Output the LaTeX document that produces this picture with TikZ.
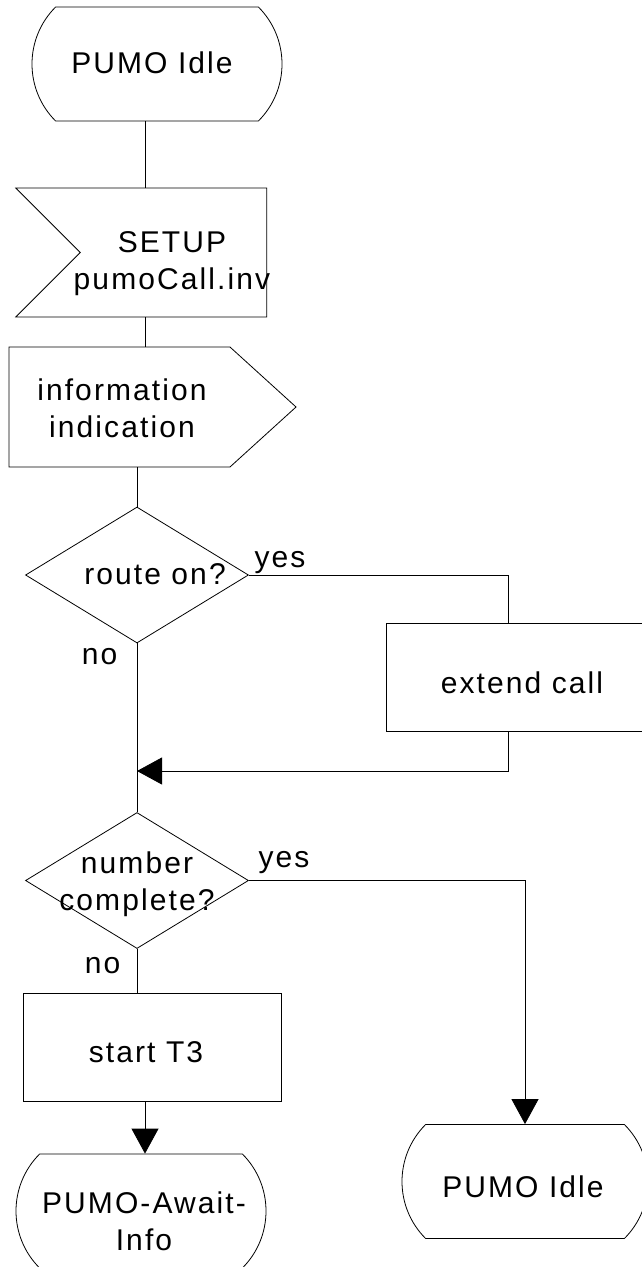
\documentclass[tikz,border=0pt]{standalone}
\usepackage{fontspec}
\newfontfamily\sdlfont[LetterSpace=7]{Liberation Sans}
\usetikzlibrary{arrows.meta,shapes.geometric,shapes.misc,shapes.symbols}

\begin{document}
\begin{tikzpicture}[x=1pt, y=-1pt, line width=0.8pt,
  statebox/.style={draw, rounded rectangle, rounded rectangle arc length=90, minimum width=250pt, minimum height=114pt, inner sep=0pt},
  taskbox/.style={draw, rectangle, minimum height=108pt, inner sep=0pt},
  decision/.style={draw, diamond, minimum width=223pt, minimum height=136pt, inner sep=0pt},
  inputsig/.style={draw, signal, signal from=west, signal to=nowhere, minimum width=251pt, minimum height=129pt, inner sep=0pt},
  outputsig/.style={draw, signal, signal to=east, signal pointer angle=84.5, minimum width=287pt, minimum height=120pt, inner sep=0pt},
  txt/.style={font=\sdlfont\fontsize{30}{37}\selectfont, inner sep=0pt, align=center},
  flowarrow/.style={-{Triangle[length=25pt, width=27pt]}}]
\useasboundingbox (0,0) rectangle (642,1267);
\clip (0,0) rectangle (642,1267);

\coordinate (spine) at (145,0);
\coordinate (merge) at (137,771);

\node[statebox] (idle) at (157,64) {};
\node[inputsig] (setup) at (173.5,252.5) {};
\node[outputsig] (info) at (119.5,407) {};
\node[decision] (route) at (137,575) {};
\node[taskbox, minimum width=272pt] (extend) at (522,677) {};
\node[decision] (complete) at (137,880.5) {};
\node[taskbox, minimum width=258pt] (start) at (152,1047) {};
\node[statebox] (await) at (141,1211) {};
\node[statebox, minimum width=246pt] (idleend) at (525,1181.5) {};

\node[txt, anchor=base] (idletxt) at (152,73) {PUMO Idle};
\node[txt] (setuptxt) at (172,264) {SETUP\\pumoCall.inv};
\node[txt] (infotxt) at (122,408) {information\\indication};
\node[txt, anchor=base] (routetxt) at (155,584) {route on?};
\node[txt, anchor=base] (extendtxt) at (522,693) {extend call};
\node[txt] (completetxt) at (137,884) {number\\complete?};
\node[txt, anchor=base] (starttxt) at (146,1062) {start T3};
\node[txt] (awaittxt) at (144,1221) {PUMO-Await-\\Info};
\node[txt, anchor=base] (idleendtxt) at (523,1197) {PUMO Idle};

\node[txt, anchor=base] (yesroute) at (280,567) {yes};
\node[txt, anchor=base] (noroute) at (99.5,664) {no};
\node[txt, anchor=base] (yescomplete) at (284,867) {yes};
\node[txt, anchor=base] (nocomplete) at (102.5,973) {no};

\draw (idle.south -| spine) -- (setup.north -| spine);
\draw (setup.south -| spine) -- (info.north -| spine);
\draw (route.north |- info.south) -- (route.north);
\draw (route.east) -| ([xshift=-14pt]extend.north);
\draw (route.south) -- (complete.north);
\draw[flowarrow] ([xshift=-14pt]extend.south) |- (merge);
\draw[flowarrow] (complete.east) -| (idleend.north);
\draw (complete.south) -- (start.north -| complete.south);
\draw[flowarrow] (start.south -| spine) -- (await.north -| spine);
\end{tikzpicture}
\end{document}
